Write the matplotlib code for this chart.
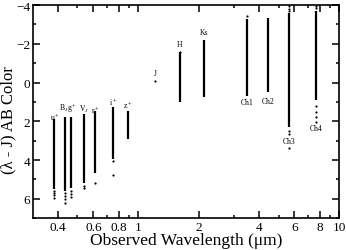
import matplotlib
matplotlib.use('Agg')
import matplotlib.pyplot as plt
from matplotlib.ticker import FixedLocator, NullFormatter, MultipleLocator

plt.rcParams['font.family'] = ['Liberation Serif', 'DejaVu Serif']
plt.rcParams['mathtext.fontset'] = 'stix'

# band names, effective wavelengths (micron), colour range of the dense column
bands = ['u$^+$', 'B$_J$', 'g$^+$', 'V$_J$', 'r$^+$', 'i$^+$', 'z$^+$', 'J',
         'H', 'Ks', 'Ch1', 'Ch2', 'Ch3', 'Ch4']
wave = [0.383, 0.435, 0.464, 0.537, 0.614, 0.75, 0.891, 1.22,
        1.61, 2.14, 3.5, 4.43, 5.64, 7.65]
col_top = [1.9, 1.8, 1.8, 1.62, 1.48, 1.28, 1.48, 0.0,
           -1.55, -2.22, -3.3, -3.35, -3.6, -3.7]
col_bot = [5.5, 5.6, 5.45, 5.2, 4.66, 3.95, 2.9, 0.0,
           1.0, 0.74, 0.69, 0.48, 2.3, 0.9]

# sparse single points at the ends of the columns
out_w = [0.383, 0.383, 0.383, 0.383,
         0.435, 0.435, 0.435, 0.435,
         0.464, 0.464, 0.464,
         0.537, 0.537,
         0.614,
         0.75, 0.75,
         1.22,
         1.61, 3.5,
         5.64, 5.64, 5.64, 5.64, 5.64, 5.64,
         7.65, 7.65, 7.65, 7.65, 7.65, 7.65]
out_c = [5.6, 5.7, 5.82, 5.95,
         5.72, 5.85, 6.0, 6.2,
         5.6, 5.75, 5.92,
         5.35, 5.45,
         5.2,
         4.05, 4.77,
         -0.08,
         -1.58, -3.43,
         -3.95, -3.82, -3.7, 2.5, 2.65, 3.37,
         -3.95, -3.85, 1.2, 1.5, 1.77, 2.03]

# label positions (colour value)
lab_c = [1.72, 1.26, 1.26, 1.36, 1.36, 0.95, 1.1, -0.5,
         -1.99, -2.6, 1.0, 0.95, 3.0, 2.35]
lab_w = [0.385, 0.426, 0.47, 0.54, 0.615, 0.75, 0.888, 1.22,
         1.61, 2.14, 3.5, 4.43, 5.64, 7.65]

fig = plt.figure(figsize=(3.46, 2.51), dpi=100)
ax = fig.add_axes([0.095, 0.127, 0.885, 0.849])

ax.vlines(wave, col_top, col_bot, colors='black', linewidth=1.6)
ax.scatter(out_w, out_c, s=2.5, color='black', linewidths=0)

for name, w, c in zip(bands, lab_w, lab_c):
    ax.text(w, c, name, fontsize=5.5, ha='center', va='center')

ax.set_xscale('log')
ax.set_xlim(0.3, 10)
ax.set_ylim(7, -4)

majors = [0.4, 0.6, 0.8, 1, 2, 4, 6, 8, 10]
minors = [0.5, 0.7, 0.9, 3, 5, 7, 9]
ax.xaxis.set_major_locator(FixedLocator(majors))
ax.set_xticklabels(['0.4', '0.6', '0.8', '1', '2', '4', '6', '8', '10'])
ax.xaxis.set_minor_locator(FixedLocator(minors))
ax.xaxis.set_minor_formatter(NullFormatter())
ax.yaxis.set_major_locator(MultipleLocator(2))
ax.yaxis.set_minor_locator(MultipleLocator(1))

ax.tick_params(which='both', direction='in', top=True, right=True,
               labelsize=9.5, pad=2)
ax.tick_params(which='major', length=5, width=1.1)
ax.tick_params(which='minor', length=2.5, width=1.1)
for s in ax.spines.values():
    s.set_linewidth(1.2)

ax.set_xlabel('Observed Wavelength (μm)', fontsize=12.5, labelpad=-1)
ax.set_ylabel('(λ - J) AB Color', fontsize=12)
ax.yaxis.set_label_coords(-0.055, 0.465)

fig.savefig('out.png', dpi=100)
